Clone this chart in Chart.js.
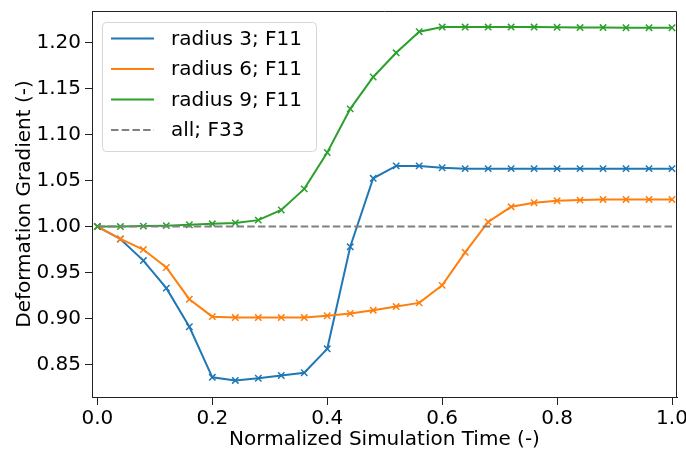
<!DOCTYPE html>
<html>
<head>
<meta charset="utf-8">
<script src="https://cdn.jsdelivr.net/npm/chart.js@4.4.1/dist/chart.umd.min.js"></script>
<style>
  html, body { margin: 0; padding: 0; background: #fff; }
  #wrap { width: 686px; height: 454px; }
</style>
</head>
<body>
<div id="wrap"><canvas id="chart" width="686" height="454"></canvas></div>
<script>
// normalized time steps
const times = [0.00, 0.04, 0.08, 0.12, 0.16, 0.20, 0.24, 0.28, 0.32, 0.36, 0.40, 0.44, 0.48,
               0.52, 0.56, 0.60, 0.64, 0.68, 0.72, 0.76, 0.80, 0.84, 0.88, 0.92, 0.96, 1.00];

// F11 per radius
const radius3 = [1.000, 0.9865, 0.963, 0.933, 0.891, 0.836, 0.8326, 0.835, 0.838, 0.841, 0.867, 0.978, 1.0525,
                 1.066, 1.066, 1.064, 1.063, 1.063, 1.063, 1.063, 1.063, 1.063, 1.063, 1.063, 1.063, 1.063];
const radius6 = [1.000, 0.9865, 0.975, 0.9555, 0.921, 0.902, 0.901, 0.901, 0.901, 0.901, 0.903, 0.9055, 0.909,
                 0.913, 0.917, 0.936, 0.972, 1.005, 1.0215, 1.026, 1.028, 1.0288, 1.0295, 1.0295, 1.0295, 1.0295];
const radius9 = [1.000, 1.000, 1.0005, 1.001, 1.002, 1.003, 1.004, 1.007, 1.018, 1.041, 1.0806, 1.128, 1.1627,
                 1.189, 1.212, 1.217, 1.217, 1.217, 1.217, 1.217, 1.2168, 1.2165, 1.2165, 1.2163, 1.2163, 1.2163];

// F33 (same for all radii)
const f33Times = [0.0, 1.0];
const f33 = [1.0, 1.0];

const seriesLabels = ['radius 3; F11', 'radius 6; F11', 'radius 9; F11', 'all; F33'];
const xTicks = [0.0, 0.2, 0.4, 0.6, 0.8, 1.0];
const yTicks = [0.85, 0.90, 0.95, 1.00, 1.05, 1.10, 1.15, 1.20];

const FONT = 'DejaVu Sans';

function pts(xs, ys){
    return xs.map((x, i) => ({x: x, y: ys[i]}));
}

function lineSet(label, xs, ys, color, order){
    return {
        label: label,
        data: pts(xs, ys),
        borderColor: color,
        backgroundColor: color,
        borderWidth: 2,
        pointStyle: 'crossRot',
        pointRadius: 4.5,
        pointBorderWidth: 1.5,
        pointHoverRadius: 4.5,
        tension: 0,
        fill: false,
        order: order
    };
}

// legend box in the upper-left corner of the plot + top/right frame
const frameAndLegend = {
    id: 'frameAndLegend',
    afterDraw(chart){
        const ctx = chart.ctx;
        const a = chart.chartArea;
        ctx.save();
        ctx.strokeStyle = '#222';
        ctx.lineWidth = 1;
        ctx.beginPath();
        ctx.moveTo(a.left, a.top + 0.5);
        ctx.lineTo(a.right - 0.5, a.top + 0.5);
        ctx.lineTo(a.right - 0.5, a.bottom);
        ctx.stroke();

        // legend
        const bx = 102, by = 22, bw = 214, bh = 129;
        ctx.fillStyle = 'rgba(255,255,255,0.8)';
        ctx.strokeStyle = '#d6d6d6';
        ctx.beginPath();
        ctx.roundRect(bx + 0.5, by + 0.5, bw, bh, 4);
        ctx.fill();
        ctx.stroke();

        ctx.font = '20px "' + FONT + '"';
        ctx.textBaseline = 'middle';
        ctx.textAlign = 'left';
        chart.data.datasets.forEach((ds, i) => {
            const y = 38.5 + i * 30.5;
            ctx.strokeStyle = ds.borderColor;
            ctx.lineWidth = 2;
            ctx.setLineDash(ds.borderDash || []);
            ctx.beginPath();
            ctx.moveTo(111, y);
            ctx.lineTo(154, y);
            ctx.stroke();
            ctx.setLineDash([]);
            ctx.fillStyle = '#000';
            ctx.fillText(ds.label, 171, y + 1);
        });
        ctx.restore();
    }
};

const ctx = document.getElementById('chart').getContext('2d');
const chart = new Chart(ctx, {
    type: 'line',
    data: {
        datasets: [
            lineSet(seriesLabels[0], times, radius3, '#1f77b4', 4),
            lineSet(seriesLabels[1], times, radius6, '#ff7f0e', 3),
            lineSet(seriesLabels[2], times, radius9, '#2ca02c', 2),
            {
                label: seriesLabels[3],
                data: pts(f33Times, f33),
                borderColor: '#808080',
                backgroundColor: '#808080',
                borderWidth: 2,
                borderDash: [7.5, 3.2],
                pointRadius: 0,
                fill: false,
                order: 1
            }
        ]
    },
    options: {
        responsive: false,
        animation: false,
        layout: { padding: { left: 0, right: 9, top: 11, bottom: 0 } },
        plugins: {
            legend: { display: false },
            tooltip: { enabled: false }
        },
        scales: {
            x: {
                type: 'linear',
                min: -0.0094,
                max: 1.0087,
                afterBuildTicks: (s) => { s.ticks = xTicks.map(v => ({value: v})); },
                afterFit: (s) => { s.height = 57; s.paddingLeft = 0; s.paddingRight = 0; },
                grid: { drawOnChartArea: false, drawTicks: true, tickLength: 8, tickColor: '#222' },
                border: { display: true, color: '#222', width: 1 },
                ticks: {
                    color: '#000',
                    font: { family: FONT, size: 20 },
                    padding: 2,
                    maxRotation: 0,
                    callback: (v) => v.toFixed(1)
                },
                title: {
                    display: true,
                    text: 'Normalized Simulation Time (-)',
                    color: '#000',
                    font: { family: FONT, size: 20 },
                    padding: { top: 0, bottom: 2 }
                }
            },
            y: {
                min: 0.8146,
                max: 1.2345,
                afterBuildTicks: (s) => { s.ticks = yTicks.map(v => ({value: v})); },
                afterFit: (s) => { s.width = 92; s.paddingTop = 0; s.paddingBottom = 0; },
                grid: { drawOnChartArea: false, drawTicks: true, tickLength: 7, tickColor: '#222' },
                border: { display: true, color: '#222', width: 1 },
                ticks: {
                    color: '#000',
                    font: { family: FONT, size: 20 },
                    padding: 4,
                    callback: (v) => v.toFixed(2)
                },
                title: {
                    display: true,
                    text: 'Deformation Gradient (-)',
                    color: '#000',
                    font: { family: FONT, size: 20 },
                    padding: { top: 13, bottom: 0 }
                }
            }
        }
    },
    plugins: [frameAndLegend]
});
</script>
</body>
</html>
